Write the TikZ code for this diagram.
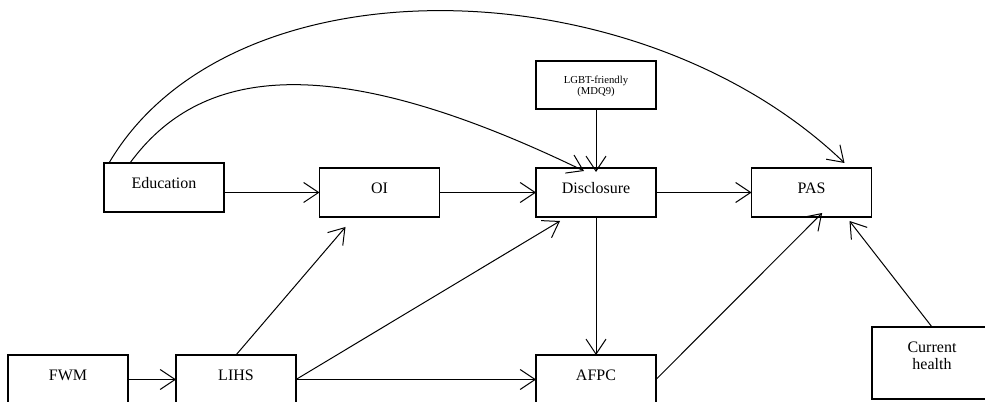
\documentclass[tikz,border=0pt]{standalone}
\usepackage{fontspec}
\setmainfont{Liberation Serif}
\usetikzlibrary{arrows.meta}

\tikzset{every picture/.style={line width=0.75pt}}
\tikzset{
  varbox/.style={draw, line width=1pt, minimum width=90pt, minimum height=36.75pt,
    inner sep=0pt, outer sep=0pt, text height=8pt, text depth=6pt,
    font=\fontsize{12pt}{13pt}\selectfont},
  path arrow/.style={-{Straight Barb[length=11.25pt,width=15pt]}},
}

\begin{document}
\begin{tikzpicture}[x=0.75pt,y=0.75pt,yscale=-1,xscale=1]
\clip (0,0) rectangle (985,402);

%Shape: Rectangle [id:edu]
\node [varbox] (edu) at (164,187.5) {Education};
%Shape: Rectangle [id:oi]
\node [varbox] (oi) at (379.5,192.5) {OI};
%Shape: Rectangle [id:disc]
\node [varbox] (disc) at (596,192.5) {Disclosure};
%Shape: Rectangle [id:pas]
\node [varbox] (pas) at (811.5,192.5) {PAS};
%Shape: Rectangle [id:lgbt]
\node [varbox, minimum height=36pt, text height=22.5pt, text depth=8pt, align=center,
  font=\fontsize{8pt}{8.5pt}\selectfont] (lgbt) at (596,85) {LGBT-friendly\\(MDQ9)};
%Shape: Rectangle [id:fwm]
\node [varbox] (fwm) at (68,379.5) {FWM};
%Shape: Rectangle [id:lihs]
\node [varbox] (lihs) at (236,379.5) {LIHS};
%Shape: Rectangle [id:afpc]
\node [varbox] (afpc) at (596,379.5) {AFPC};
%Shape: Rectangle [id:health]
\node [varbox, minimum height=54pt, text height=26pt, text depth=16pt, align=center,
  font=\fontsize{12pt}{12.75pt}\selectfont] (health) at (932,363) {Current\\health};

%Straight Lines
\draw [path arrow] (edu.east |- oi.west) -- (oi.west);
\draw [path arrow] (oi.east) -- (disc.west);
\draw [path arrow] (disc.east) -- (pas.west);
\draw [path arrow] (lgbt.south) -- ([yshift=3pt]disc.north);
\draw [path arrow] (fwm.east) -- (lihs.west);
\draw [path arrow] (lihs.east) -- (afpc.west);
\draw [path arrow] (lihs.north) -- ([xshift=19.5pt,yshift=7.5pt]oi.south west);
\draw [path arrow] (lihs.east) -- ([xshift=18pt,yshift=3pt]disc.south west);
\draw [path arrow] (disc.south) -- (afpc.north);
\draw [path arrow] (afpc.east) -- ([xshift=53pt,yshift=-3pt]pas.south west);
\draw [path arrow] (health.north) -- ([xshift=-16.5pt,yshift=3pt]pas.south east);

%Curve Lines
\draw [path arrow] ([xshift=3.75pt]edu.north west) .. controls (231,-45) and (638,-35) .. ([xshift=69.75pt,yshift=-3.75pt]pas.north west);
\draw [path arrow] ([xshift=19.5pt]edu.north west) .. controls (198,70) and (324,45) .. ([xshift=-9pt,yshift=2.25pt]disc.north);

\end{tikzpicture}
\end{document}
